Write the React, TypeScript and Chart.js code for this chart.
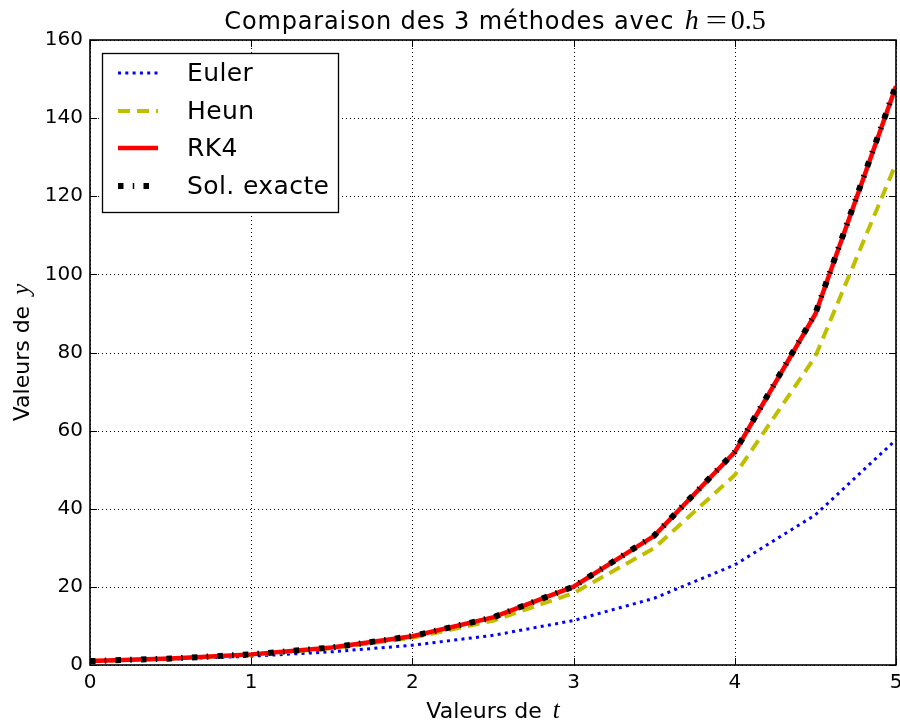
import React, { useEffect, useRef } from "react";
import { Chart, registerables } from "chart.js";

Chart.register(...registerables);

const tValues = [0, 0.5, 1, 1.5, 2, 2.5, 3, 3.5, 4, 4.5, 5];
const eulerValues = [1, 1.5, 2.25, 3.38, 5.06, 7.59, 11.39, 17.09, 25.63, 38.44, 57.67];
const heunValues = [1, 1.63, 2.64, 4.29, 6.97, 11.33, 18.41, 29.92, 48.62, 79.01, 128.39];
const rk4Values = [1, 1.65, 2.72, 4.48, 7.38, 12.17, 20.06, 33.07, 54.52, 89.87, 148.14];
const exactValues = [1, 1.65, 2.72, 4.48, 7.39, 12.18, 20.09, 33.12, 54.6, 90.02, 148.41];
const seriesLabels = ["Euler", "Heun", "RK4", "Sol. exacte"];
const xTickValues = [0, 1, 2, 3, 4, 5];
const yTickValues = [0, 20, 40, 60, 80, 100, 120, 140, 160];
const titleText = "Comparaison des 3 méthodes avec ";
const titleMath = ["h", "=", "0.5"];
const xLabelText = ["Valeurs de", "t"];
const yLabelText = ["Valeurs de", "y"];

const SANS = "'DejaVu Sans', sans-serif";
const SERIF = "'Liberation Serif', 'DejaVu Serif', serif";

const toPoints = (ys: number[]) => tValues.map((t, i) => ({ x: t, y: ys[i] }));

function drawLabel(ctx: any, parts: string[], cx: number, y: number) {
  ctx.font = `22px ${SANS}`;
  const w1 = ctx.measureText(parts[0]).width;
  ctx.font = `italic 25px ${SERIF}`;
  const w2 = ctx.measureText(parts[1]).width;
  const gap = 11;
  const sx = cx - (w1 + gap + w2) / 2;
  ctx.font = `22px ${SANS}`;
  ctx.fillText(parts[0], sx, y);
  ctx.font = `italic 25px ${SERIF}`;
  ctx.fillText(parts[1], sx + w1 + gap, y);
}

const decorPlugin = {
  id: "decor",
  beforeDatasetsDraw(chart: any) {
    const { ctx, chartArea: a, scales } = chart;
    ctx.save();
    ctx.strokeStyle = "#000";
    ctx.lineWidth = 1;
    ctx.setLineDash([1, 3]);
    xTickValues.forEach((v) => {
      const x = Math.round(scales.x.getPixelForValue(v)) + 0.5;
      ctx.beginPath();
      ctx.moveTo(x, a.top);
      ctx.lineTo(x, a.bottom);
      ctx.stroke();
    });
    yTickValues.forEach((v) => {
      const y = Math.round(scales.y.getPixelForValue(v)) + 0.5;
      ctx.beginPath();
      ctx.moveTo(a.left, y);
      ctx.lineTo(a.right, y);
      ctx.stroke();
    });
    ctx.restore();
  },
  afterDraw(chart: any) {
    const { ctx, chartArea: a, scales } = chart;
    ctx.save();
    // inward ticks
    ctx.strokeStyle = "#000";
    ctx.lineWidth = 1;
    ctx.setLineDash([]);
    const tl = 7;
    xTickValues.forEach((v) => {
      const x = Math.round(scales.x.getPixelForValue(v)) + 0.5;
      ctx.beginPath();
      ctx.moveTo(x, a.bottom);
      ctx.lineTo(x, a.bottom - tl);
      ctx.moveTo(x, a.top);
      ctx.lineTo(x, a.top + tl);
      ctx.stroke();
    });
    yTickValues.forEach((v) => {
      const y = Math.round(scales.y.getPixelForValue(v)) + 0.5;
      ctx.beginPath();
      ctx.moveTo(a.left, y);
      ctx.lineTo(a.left + tl, y);
      ctx.moveTo(a.right, y);
      ctx.lineTo(a.right - tl, y);
      ctx.stroke();
    });
    // frame
    ctx.lineWidth = 1.6;
    ctx.strokeRect(a.left, a.top, a.right - a.left, a.bottom - a.top);

    // title
    ctx.fillStyle = "#000";
    ctx.textBaseline = "alphabetic";
    ctx.textAlign = "left";
    const cx = (a.left + a.right) / 2;
    ctx.font = `24px ${SANS}`;
    (ctx as any).letterSpacing = "0.85px";
    const w1 = ctx.measureText(titleText).width;
    const mathW = 79;
    let tx = cx - (w1 + mathW) / 2;
    const ty = 29;
    ctx.fillText(titleText, tx, ty);
    (ctx as any).letterSpacing = "0px";
    tx += w1 + 2;
    ctx.font = `italic 28px ${SERIF}`;
    ctx.fillText(titleMath[0], tx, ty);
    ctx.font = `28px ${SERIF}`;
    ctx.save();
    ctx.translate(tx + 21, ty);
    ctx.scale(1.35, 1);
    ctx.fillText(titleMath[1], 0, 0);
    ctx.restore();
    ctx.fillText(titleMath[2], tx + 46, ty);

    // x label
    drawLabel(ctx, xLabelText, cx, 718);

    // y label
    ctx.save();
    const cy = (a.top + a.bottom) / 2;
    ctx.translate(29, cy);
    ctx.rotate(-Math.PI / 2);
    drawLabel(ctx, yLabelText, 0, 0);
    ctx.restore();

    // legend
    const bx = 102, by = 53, bw = 236, bh = 159;
    ctx.fillStyle = "#fff";
    ctx.fillRect(bx, by, bw, bh);
    ctx.strokeStyle = "#000";
    ctx.lineWidth = 1.3;
    ctx.setLineDash([]);
    ctx.strokeRect(bx + 0.5, by + 0.5, bw, bh);
    const rows = [73, 111, 148, 186];
    chart.data.datasets.forEach((ds: any, i: number) => {
      const y = rows[i];
      ctx.save();
      ctx.strokeStyle = ds.borderColor;
      ctx.lineWidth = ds.borderWidth;
      ctx.setLineDash(ds.borderDash || []);
      ctx.lineCap = "butt";
      ctx.beginPath();
      ctx.moveTo(118, y);
      ctx.lineTo(158, y);
      ctx.stroke();
      ctx.restore();
      ctx.fillStyle = "#000";
      ctx.font = `25px ${SANS}`;
      ctx.textBaseline = "middle";
      ctx.textAlign = "left";
      (ctx as any).letterSpacing = "0.4px";
      ctx.fillText(ds.label, 187, y + 1);
      (ctx as any).letterSpacing = "0px";
    });
    ctx.restore();
  },
};

export default function App() {
  const canvasRef = useRef<HTMLCanvasElement | null>(null);

  useEffect(() => {
    const canvas = canvasRef.current;
    if (!canvas) return;
    const chart = new Chart(canvas, {
      type: "line",
      data: {
        datasets: [
          {
            label: seriesLabels[0],
            data: toPoints(eulerValues),
            borderColor: "#0000ff",
            borderWidth: 3,
            borderDash: [3, 4.3],
            pointRadius: 0,
            fill: false,
            tension: 0,
            order: 3,
          },
          {
            label: seriesLabels[1],
            data: toPoints(heunValues),
            borderColor: "#bfbf00",
            borderWidth: 4,
            borderDash: [12, 7],
            pointRadius: 0,
            fill: false,
            tension: 0,
            order: 2,
          },
          {
            label: seriesLabels[2],
            data: toPoints(rk4Values),
            borderColor: "#ff0000",
            borderWidth: 4.5,
            pointRadius: 0,
            fill: false,
            tension: 0,
            order: 1,
          },
          {
            label: seriesLabels[3],
            data: toPoints(exactValues),
            borderColor: "#000000",
            borderWidth: 6,
            borderDash: [5.5, 9.25, 1.5, 9.25],
            pointRadius: 0,
            fill: false,
            tension: 0,
            order: 0,
          },
        ],
      },
      options: {
        animation: false,
        responsive: false,
        devicePixelRatio: 1,
        layout: { padding: { left: 0, top: 40, right: 4, bottom: 0 } },
        plugins: {
          legend: { display: false },
          title: { display: false },
          tooltip: { enabled: false },
        },
        scales: {
          x: {
            type: "linear",
            min: 0,
            max: 5,
            grid: { display: false, drawTicks: false },
            border: { display: false },
            ticks: {
              stepSize: 1,
              color: "#000",
              font: { family: SANS, size: 20 },
              padding: 6,
              maxRotation: 0,
              autoSkip: false,
            },
            afterFit(scale: any) {
              scale.height = 57;
              scale.paddingLeft = 0;
              scale.paddingRight = 0;
            },
          },
          y: {
            type: "linear",
            min: 0,
            max: 160,
            grid: { display: false, drawTicks: false },
            border: { display: false },
            ticks: {
              stepSize: 20,
              color: "#000",
              font: { family: SANS, size: 20 },
              padding: 7,
            },
            afterFit(scale: any) {
              scale.width = 90;
              scale.paddingTop = 0;
              scale.paddingBottom = 0;
            },
          },
        },
      },
      plugins: [decorPlugin],
    });
    return () => chart.destroy();
  }, []);

  return (
    <div style={{ position: "absolute", left: 0, top: 0, width: 900, height: 722, background: "#fff" }}>
      <canvas ref={canvasRef} width={900} height={722} />
    </div>
  );
}
